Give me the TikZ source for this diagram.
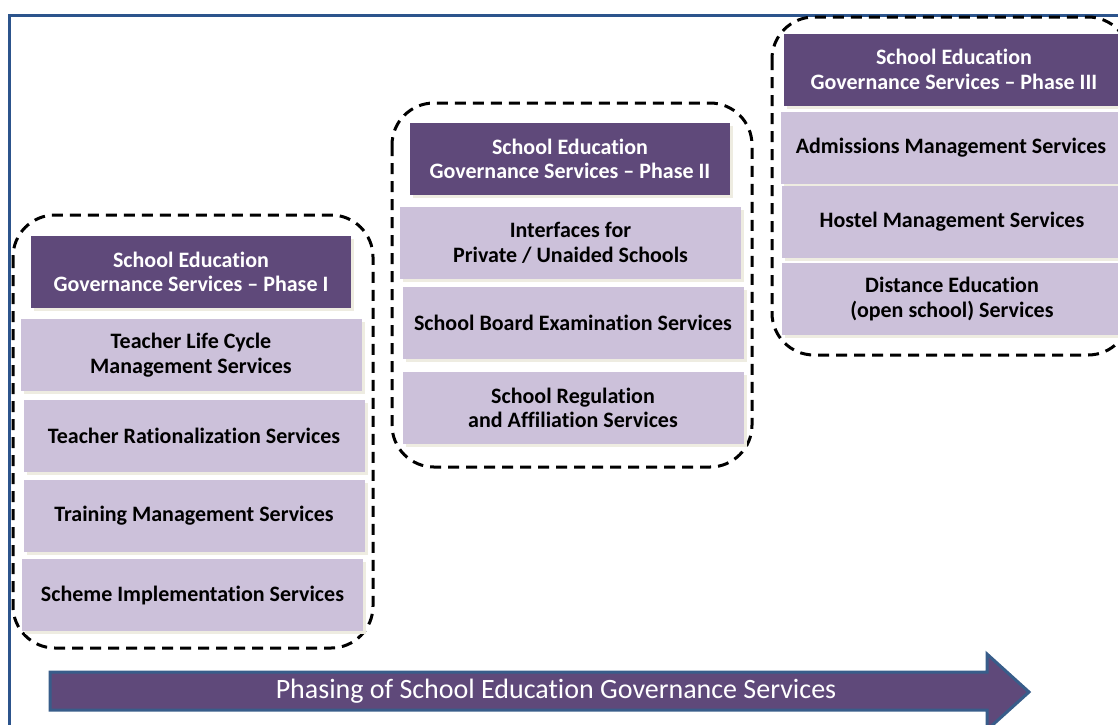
\documentclass[tikz,border=0pt]{standalone}
\usepackage{fontspec}
\setmainfont[Ligatures=NoCommon]{Carlito}
\usetikzlibrary{shadows}
\definecolor{headcol}{RGB}{95,73,122}
\definecolor{svccol}{RGB}{204,193,218}
\definecolor{shadowcol}{RGB}{238,236,225}
\definecolor{framecol}{RGB}{44,84,140}
\definecolor{arrowline}{RGB}{56,93,138}
\tikzset{
  boxfont/.style={font=\fontsize{22}{24.5}\selectfont\bfseries},
  phasehead/.style={boxfont, fill=headcol, text=white, align=center,
    minimum width=320pt, minimum height=72pt, inner sep=0pt,
    general shadow={fill=shadowcol, shadow xshift=3pt, shadow yshift=-3pt}},
  svcbox/.style={boxfont, fill=svccol, text=black, align=center,
    minimum width=341pt, minimum height=72pt, inner sep=0pt,
    general shadow={fill=shadowcol, shadow xshift=3pt, shadow yshift=-3pt}},
  group/.style={line width=3pt, dash pattern=on 11pt off 7pt, rounded corners=42pt}
}
\begin{document}
\begin{tikzpicture}[x=1pt,y=-1pt]
\useasboundingbox (0,0) rectangle (1118,724);
\clip (0,0) rectangle (1118,724);

% frame
\draw[framecol, line width=3pt] (9,735) -- (9,15) -- (1130,15);

% phase I
\draw[group] (13,215) rectangle (373,648);
\node[phasehead] (headI) at (191,272) {School Education\\Governance Services -- Phase I};
\node[svcbox] (teacherlife) at (191,355) {Teacher Life Cycle\\Management Services};
\node[svcbox] (rational) at (194,436) {Teacher Rationalization Services};
\node[svcbox] (training) at (194,515.5) {Training Management Services};
\node[svcbox] (scheme) at (192.5,595) {Scheme Implementation Services};

% phase II
\draw[group] (392,103) rectangle (752,467);
\node[phasehead] (headII) at (570,159) {School Education\\Governance Services -- Phase II};
\node[svcbox] (interfaces) at (570.5,243) {Interfaces for\\Private / Unaided Schools};
\node[svcbox] (board) at (573,322.5) {School Board Examination Services};
\node[svcbox] (regulation) at (573,408) {School Regulation\\and Affiliation Services};

% phase III
\draw[group] (772,17) rectangle (1130,355);
\node[phasehead, minimum width=340pt] (headIII) at (954,69.5) {School Education\\Governance Services -- Phase III};
\node[svcbox] (admissions) at (951,147.5) {Admissions Management Services};
\node[svcbox] (hostel) at (952,221.5) {Hostel Management Services};
\node[svcbox] (distance) at (952,299) {Distance Education\\(open school) Services};

% phasing arrow
\draw[fill=headcol, draw=arrowline, line width=3pt]
  (50,672) -- (987,672) -- (987,654) -- (1029,692) -- (987,730) -- (987,710) -- (50,710) -- cycle;
\node[text=white, font=\fontsize{28}{32}\selectfont] (phasing) at (556,691)
  {Phasing of School Education Governance Services};
\end{tikzpicture}
\end{document}
